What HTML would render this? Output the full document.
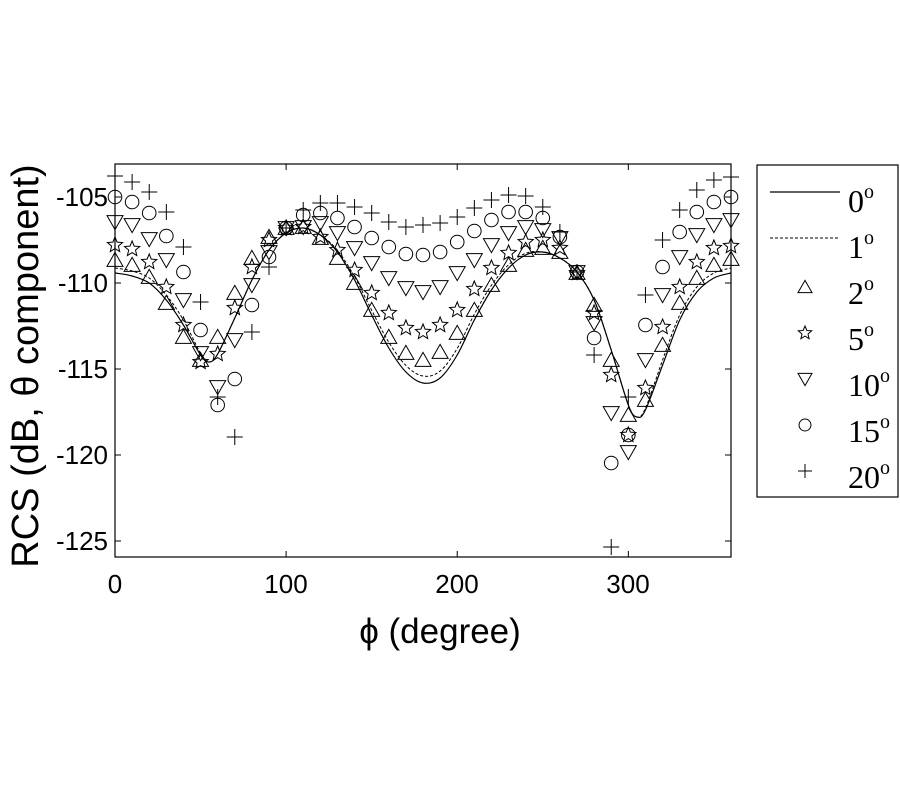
<!DOCTYPE html>
<html><head><meta charset="utf-8"><style>body{margin:0;background:#fff}svg{display:block}</style></head>
<body>
<svg id="s" width="900" height="800" xmlns="http://www.w3.org/2000/svg" font-family="Liberation Sans, sans-serif">
<rect width="900" height="800" fill="#fff"/>
<g id="g"></g>
<rect x="115" y="164" width="616" height="393" fill="none" stroke="#000" stroke-width="1.2"/>
<g font-size="26" text-anchor="middle" fill="#000">
<text x="115" y="593">0</text><text x="286" y="593">100</text><text x="457" y="593">200</text><text x="628" y="593">300</text>
</g>
<g font-size="26" text-anchor="end" fill="#000">
<text x="108" y="206">-105</text><text x="108" y="292">-110</text><text x="108" y="378">-115</text><text x="108" y="464">-120</text><text x="108" y="550">-125</text>
</g>
<text x="440" y="643" font-size="35" text-anchor="middle">ϕ (degree)</text>
<text transform="translate(38,366) rotate(-90)" font-size="38" text-anchor="middle">RCS (dB, θ component)</text>
<rect x="757" y="165" width="141" height="332" fill="#fff" stroke="#000" stroke-width="1.2"/>
<g font-family="Liberation Serif, serif" font-size="32">
<text x="848" y="212">0<tspan font-size="20" dy="-14">o</tspan></text>
<text x="848" y="258">1<tspan font-size="20" dy="-14">o</tspan></text>
<text x="848" y="304">2<tspan font-size="20" dy="-14">o</tspan></text>
<text x="848" y="350">5<tspan font-size="20" dy="-14">o</tspan></text>
<text x="848" y="396">10<tspan font-size="20" dy="-14">o</tspan></text>
<text x="848" y="442">15<tspan font-size="20" dy="-14">o</tspan></text>
<text x="848" y="488">20<tspan font-size="20" dy="-14">o</tspan></text>
</g>
<line x1="770" y1="192" x2="840" y2="192" stroke="#000" stroke-width="1.2"/>
<line x1="770" y1="238" x2="840" y2="238" stroke="#000" stroke-width="1" stroke-dasharray="3,2"/>
<g id="lg"></g>
</svg>
<script>
var NS="http://www.w3.org/2000/svg";
function el(p,t,a){var e=document.createElementNS(NS,t);for(var k in a)e.setAttribute(k,a[k]);p.appendChild(e);return e;}
var g=document.getElementById('g'),lg=document.getElementById('lg');
function X(phi){return 115+phi*616/360;}
[100,200,300].forEach(function(p){var x=X(p);el(g,'line',{x1:x,y1:557,x2:x,y2:551,stroke:'#000'});el(g,'line',{x1:x,y1:164,x2:x,y2:170,stroke:'#000'});});
[197,283,369,455,541].forEach(function(y){el(g,'line',{x1:115,y1:y,x2:121,y2:y,stroke:'#000'});el(g,'line',{x1:731,y1:y,x2:725,y2:y,stroke:'#000'});});
function marker(p,type,x,y,s){
 var a={fill:'none',stroke:'#000','stroke-width':1};
 if(type=='up'){el(p,'polygon',Object.assign({points:(x-s)+','+(y+s*0.8)+' '+(x+s)+','+(y+s*0.8)+' '+x+','+(y-s*0.95)},a));}
 else if(type=='dn'){el(p,'polygon',Object.assign({points:(x-s)+','+(y-s*0.8)+' '+(x+s)+','+(y-s*0.8)+' '+x+','+(y+s*0.95)},a));}
 else if(type=='o'){el(p,'circle',Object.assign({cx:x,cy:y,r:s*0.85},a));}
 else if(type=='+'){el(p,'path',Object.assign({d:'M'+(x-s)+' '+y+'h'+(2*s)+'M'+x+' '+(y-s)+'v'+(2*s)},a));}
 else if(type=='star'){var pts=[];for(var i=0;i<10;i++){var r=i%2?s*0.45:s,an=-Math.PI/2+i*Math.PI/5;pts.push((x+r*Math.cos(an)).toFixed(1)+','+(y+r*Math.sin(an)).toFixed(1));}el(p,'polygon',Object.assign({points:pts.join(' ')},a));}
}
var D={
'+':[176,182,192,212,247,302,397,437,332,267,228,210,203,203,207,213,222,227,225,223,217,208,200,195,196,207,232,272,355,547,397,295,240,210,190,180,177],
'o':[197,202,213,236,272,330,405,379,305,257,228,215,213,218,227,238,247,254,255,252,242,231,220,212,212,218,237,272,338,463,435,325,267,232,212,202,197],
'dn':[222,225,239,260,300,353,387,340,285,252,228,227,223,233,248,263,278,288,292,287,273,260,245,233,227,230,238,272,323,413,452,360,295,257,235,225,220],
'star':[245,249,262,287,325,362,354,308,267,240,228,227,237,250,270,293,313,328,332,325,310,289,268,253,242,240,248,273,313,375,435,388,327,287,262,248,246],
'up':[260,265,277,303,337,360,337,293,258,237,228,227,238,258,283,310,337,353,360,352,333,310,285,265,250,248,252,273,305,360,415,400,345,303,278,265,259]};
for(var k in D){D[k].forEach(function(y,i){marker(g,k,X(i*10),y,8);});}
function curve(pts,attrs){
 var d='M'+pts[0][0]+' '+pts[0][1];
 for(var i=0;i<pts.length-1;i++){var p0=pts[Math.max(0,i-1)],p1=pts[i],p2=pts[i+1],p3=pts[Math.min(pts.length-1,i+2)];
  d+=' C'+(p1[0]+(p2[0]-p0[0])/6).toFixed(1)+' '+(p1[1]+(p2[1]-p0[1])/6).toFixed(1)+' '+(p2[0]-(p3[0]-p1[0])/6).toFixed(1)+' '+(p2[1]-(p3[1]-p1[1])/6).toFixed(1)+' '+p2[0].toFixed(1)+' '+p2[1];}
 el(g,'path',Object.assign({d:d,fill:'none',stroke:'#000'},attrs));}
var sol=[[0,273],[10,276],[20,283],[30,300],[40,325],[50,355],[55,362],[60,354],[70,318],[80,280],[90,250],[100,233],[110,228],[120,235],[130,252],[140,280],[150,315],[160,348],[170,372],[180,383],[190,378],[200,355],[210,320],[220,290],[230,268],[240,255],[250,252],[260,258],[270,272],[280,300],[290,350],[300,405],[305,417],[310,410],[320,365],[330,320],[340,292],[350,278],[360,273]];
curve(sol.map(function(p){return [X(p[0]),p[1]];}),{'stroke-width':1.2});
var das=sol.map(function(p){var ph=p[0],dy=0;if(ph>=120&&ph<=250)dy=-7*Math.sin((ph-120)/130*Math.PI);if(ph>=320||ph<=40){dy=-5;}if(ph>40&&ph<55)dy=-5*(55-ph)/15;if(ph>305&&ph<320)dy=-5*(ph-305)/15;return [X(ph),p[1]+dy];});
curve(das,{'stroke-width':1,'stroke-dasharray':'3,2'});
['up','star','dn','o','+'].forEach(function(t,i){marker(lg,t,805,289+i*46-2,7);});
</script>
</body></html>
